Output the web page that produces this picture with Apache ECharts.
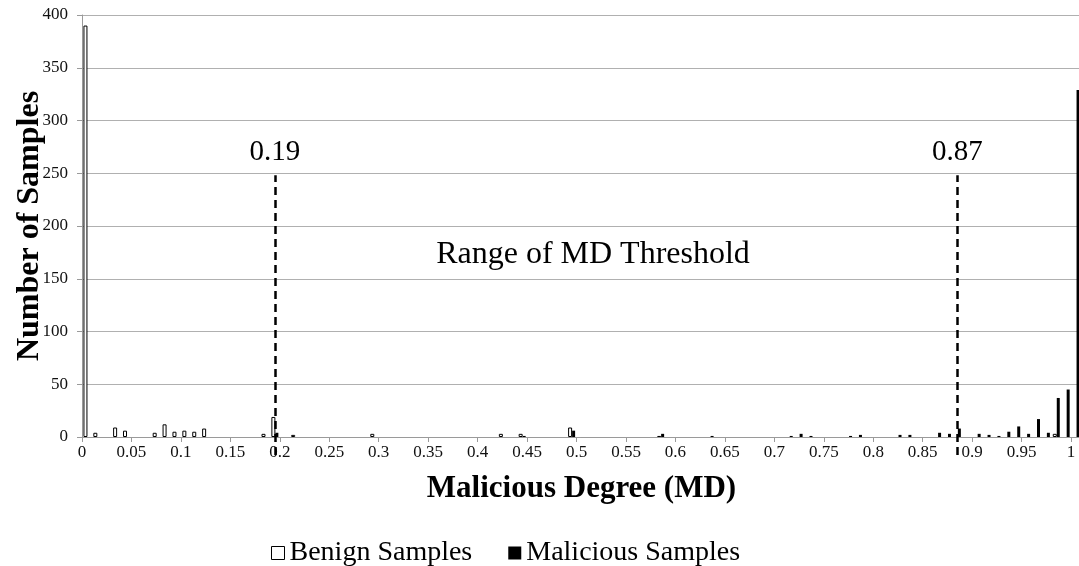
<!DOCTYPE html>
<html>
<head>
<meta charset="utf-8">
<script src="https://cdn.jsdelivr.net/npm/echarts@6/dist/echarts.min.js"></script>
<style>html,body{margin:0;padding:0;background:#fff}#c{width:1079px;height:566px}</style>
</head>
<body>
<div id="c"></div>
<script>
// Categories: malicious degree 0.00 .. 1.00 in 0.01 steps
const categories = [];
for (let i = 0; i <= 100; i++) categories.push((i / 100).toFixed(2));

const benign = [390,4,0,9,6,0,0,4,12,5, 6,5,8,0,0,0,0,0,3,19, 0,2,0,0,0,0,0,0,0,3,
  0,0,0,0,0,0,0,0,0,0, 0,0,3,0,3,0,0,0,0,9, 0,0,0,0,0,0,0,0,1,0,
  0,0,0,0,0,0,0,0,0,0, 0,0,0,0,0,0,0,0,0,0, 0,0,0,0,0,0,0,0,0,0,
  0,0,0,0,0,0,0,0,3,0, 0];
const malicious = [0,0,0,0,0,0,0,0,0,0, 0,0,0,0,0,0,0,0,0,4, 0,0,0,0,0,0,0,0,0,0,
  0,0,0,0,0,0,0,0,0,0, 0,0,0,0,1,0,0,0,0,6, 0,0,0,0,0,0,0,0,3,0,
  0,0,0,1,0,0,0,0,0,0, 0,1,3,1,0,0,0,1,2,0, 0,0,2,2,0,0,4,3,8,0,
  3,2,1,5,10,3,17,4,37,45, 329];

const thresholds = [
  { at: '0.19', label: '0.19' },
  { at: '0.88', label: '0.87' }
];
const thresholdSpan = { from: -17, to: 248 };
const yTicks = { min: 0, max: 400, interval: 50 };
const xTicks = { min: 0, max: 1.01, interval: 0.05 };

const serif = '"Liberation Serif","DejaVu Serif",serif';
const hideZero = v => (v === 0 ? '-' : v);
const chart = echarts.init(document.getElementById('c'));
chart.setOption({
  animation: false,
  backgroundColor: '#fff',
  grid: [
    { left: 82, top: 15, width: 999, height: 422, containLabel: false, outerBoundsMode: 'none' },
    // overlay grid (same scale, extends below the axis) for the threshold lines
    { left: 82, top: 15, width: 999, height: 422 * (400 - thresholdSpan.from) / 400, containLabel: false, outerBoundsMode: 'none' }
  ],
  xAxis: [
    { type: 'category', data: categories, boundaryGap: true, show: false, gridIndex: 0 },
    {
      type: 'value', gridIndex: 0, min: xTicks.min, max: xTicks.max, interval: xTicks.interval,
      position: 'bottom',
      name: 'Malicious Degree (MD)', nameLocation: 'middle', nameGap: 36,
      nameTextStyle: { fontFamily: serif, fontSize: 31, fontWeight: 'bold', color: '#000' },
      axisLine: { show: true, lineStyle: { color: '#9a9a9a', width: 1 } },
      axisTick: { show: true, length: 5, lineStyle: { color: '#9a9a9a' } },
      splitLine: { show: false },
      axisLabel: {
        fontFamily: serif, fontSize: 17, color: '#111', margin: 7,
        showMaxLabel: false,
        formatter: v => (v > 1.0001 ? '' : String(+v.toFixed(2)))
      }
    },
    { type: 'category', data: categories, boundaryGap: true, show: false, gridIndex: 1 }
  ],
  yAxis: [
    {
      type: 'value', gridIndex: 0, min: yTicks.min, max: yTicks.max, interval: yTicks.interval,
      name: 'Number of Samples', nameLocation: 'middle', nameGap: 36, nameMoveOverlap: false,
      nameTextStyle: { fontFamily: serif, fontSize: 32, fontWeight: 'bold', color: '#000' },
      axisLine: { show: true, lineStyle: { color: '#9a9a9a', width: 1 } },
      axisTick: { show: true, length: 5, lineStyle: { color: '#9a9a9a' } },
      splitLine: { show: true, lineStyle: { color: '#b0b0b0', width: 1 } },
      axisLabel: { fontFamily: serif, fontSize: 17, color: '#111', margin: 14 }
    },
    { type: 'value', gridIndex: 1, min: thresholdSpan.from, max: yTicks.max, show: false, splitLine: { show: false } }
  ],
  legend: {
    top: 534, left: 266, itemWidth: 13, itemHeight: 13, itemGap: 36,
    textStyle: { fontFamily: serif, fontSize: 28, color: '#000' },
    data: [
      { name: 'Benign Samples', icon: 'rect', itemStyle: { color: '#fff', borderColor: '#000', borderWidth: 1 } },
      { name: 'Malicious Samples', icon: 'rect', itemStyle: { color: '#000' } }
    ]
  },
  series: [
    {
      name: 'Benign Samples', type: 'bar', xAxisIndex: 0, yAxisIndex: 0, data: benign.map(hideZero),
      barWidth: 4, barGap: '0%', clip: false,
      itemStyle: { color: '#fff', borderColor: '#000', borderWidth: 1 }
    },
    {
      name: 'Malicious Samples', type: 'bar', xAxisIndex: 0, yAxisIndex: 0, data: malicious.map(hideZero),
      barWidth: 3, barGap: '0%', clip: false,
      itemStyle: { color: '#000' }
    },
    {
      name: 'thresholds', type: 'line', xAxisIndex: 2, yAxisIndex: 1, data: [],
      silent: true, clip: false,
      markLine: {
        silent: true, symbol: 'none', animation: false,
        lineStyle: { color: '#000', width: 2.5, type: [8, 5] },
        label: {
          show: true, position: 'end', distance: 8,
          fontFamily: serif, fontSize: 29, color: '#000'
        },
        data: thresholds.map(t => [
          { xAxis: t.at, yAxis: thresholdSpan.from, label: { formatter: t.label } },
          { xAxis: t.at, yAxis: thresholdSpan.to }
        ])
      }
    }
  ],
  graphic: [
    {
      type: 'text', x: 593, y: 255,
      style: {
        text: 'Range of MD Threshold', fontFamily: serif, fontSize: 32,
        fill: '#000', textAlign: 'center', textVerticalAlign: 'middle'
      }
    }
  ]
});
</script>
</body>
</html>
